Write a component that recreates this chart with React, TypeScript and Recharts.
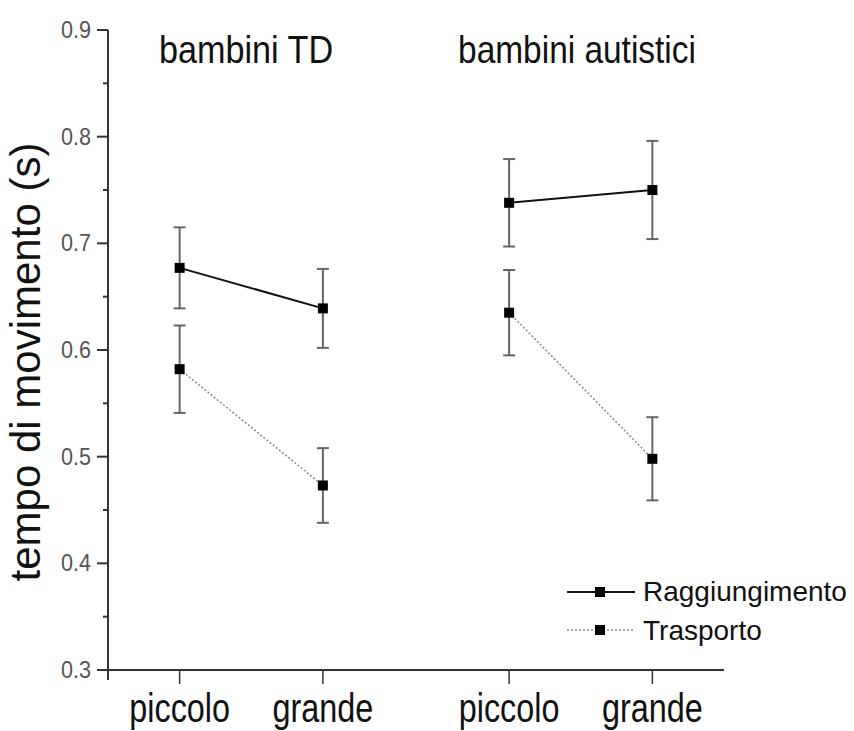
import { Customized, ErrorBar, Legend, Line, LineChart, XAxis, YAxis } from "recharts";

const FONT = "'Liberation Sans', Arial, sans-serif";

// groups and conditions
const groups = ["bambini TD", "bambini autistici"];
const sizes = ["piccolo", "grande"];
// slot of each condition along the x axis (gap between the two groups)
const xSlots = [0, 1, 2.3, 3.3];

// movement time in seconds, order: TD piccolo, TD grande, aut piccolo, aut grande
const reachMeans = [0.677, 0.639, 0.738, 0.75];
const reachErrors = [0.038, 0.037, 0.041, 0.046];
const transportMeans = [0.582, 0.473, 0.635, 0.498];
const transportErrors = [0.041, 0.035, 0.04, 0.039];

const seriesNames = ["Raggiungimento", "Trasporto"];
const yTicks = [0.3, 0.35, 0.4, 0.45, 0.5, 0.55, 0.6, 0.65, 0.7, 0.75, 0.8, 0.85, 0.9];

const rows = xSlots.map((x, i) => ({
	x,
	reach: reachMeans[i],
	reachErr: reachErrors[i],
	transport: transportMeans[i],
	transportErr: transportErrors[i],
}));
const tdRows = rows.slice(0, 2);
const autRows = rows.slice(2, 4);

const tickLabels = groups.flatMap(() => sizes);

function SquishText({ x, y, sx = 1, size, anchor = "middle", fill = "#111", children }: any) {
	return (
		<text
			transform={`translate(${x},${y}) scale(${sx},1)`}
			textAnchor={anchor}
			fontSize={size}
			fontFamily={FONT}
			fill={fill}
		>
			{children}
		</text>
	);
}

function SquareDot(props: any) {
	const { cx, cy, index } = props;
	if (cx == null || cy == null) return null;
	return <rect key={index} x={cx - 5} y={cy - 5} width={10} height={10} fill="#000" />;
}

function YTick({ x, y, payload }: any) {
	const major = Math.round(payload.value * 100) % 10 === 0;
	return (
		<g>
			<line x1={x - (major ? 11 : 5)} x2={x} y1={y} y2={y} stroke="#333" strokeWidth={2} />
			{major && (
				<SquishText x={x - 17} y={y + 8} sx={0.94} size={23} anchor="end" fill="#555">
					{payload.value.toFixed(1)}
				</SquishText>
			)}
		</g>
	);
}

function XTick({ x, y, payload, index }: any) {
	const i = xSlots.indexOf(payload.value);
	return (
		<g>
			<line x1={x} x2={x} y1={y} y2={y + 14} stroke="#333" strokeWidth={1.5} />
			<SquishText x={x} y={y + 52} sx={0.79} size={41}>
				{tickLabels[i >= 0 ? i : index]}
			</SquishText>
		</g>
	);
}

function Annotations() {
	return (
		<g>
			<line x1={108} x2={108} y1={670} y2={680} stroke="#333" strokeWidth={2} />
			<SquishText x={246} y={63} sx={0.9} size={38}>
				{groups[0]}
			</SquishText>
			<SquishText x={577} y={63} sx={0.88} size={38}>
				{groups[1]}
			</SquishText>
			<text
				transform="translate(40,362) rotate(-90)"
				textAnchor="middle"
				fontSize={42}
				fontFamily={FONT}
				fill="#111"
			>
				tempo di movimento (s)
			</text>
		</g>
	);
}

function LegendBox() {
	return (
		<svg width={294} height={80}>
			<line x1={7} x2={75} y1={20} y2={20} stroke="#111" strokeWidth={2} />
			<rect x={35} y={15} width={10} height={10} fill="#000" />
			<text x={83} y={29} fontSize={28} fontFamily={FONT} fill="#111">
				{seriesNames[0]}
			</text>
			<line x1={7} x2={75} y1={58} y2={58} stroke="#888" strokeWidth={1.5} strokeDasharray="2 2" />
			<rect x={35} y={53} width={10} height={10} fill="#000" />
			<text x={83} y={68} fontSize={28} fontFamily={FONT} fill="#111">
				{seriesNames[1]}
			</text>
		</svg>
	);
}

export default function App() {
	return (
		<div style={{ position: "absolute", left: 0, top: 0, background: "#fff" }}>
			<LineChart width={854} height={731} margin={{ top: 30, right: 130, bottom: 0, left: 0 }}>
				<XAxis
					dataKey="x"
					type="number"
					domain={[-0.5, 3.8]}
					ticks={xSlots}
					allowDataOverflow
					height={61}
					tickSize={0}
					tickMargin={0}
					tickLine={false}
					tick={<XTick />}
					stroke="#333"
					strokeWidth={2}
				/>
				<YAxis
					type="number"
					domain={[0.3, 0.9]}
					ticks={yTicks}
					width={108}
					tickSize={0}
					tickMargin={0}
					tickLine={false}
					tick={<YTick />}
					interval={0}
					stroke="#333"
					strokeWidth={2}
				/>
				<Line data={tdRows} dataKey="reach" stroke="#111" strokeWidth={2} dot={SquareDot} isAnimationActive={false}>
					<ErrorBar dataKey="reachErr" width={6} stroke="#666" strokeWidth={2} direction="y" />
				</Line>
				<Line data={autRows} dataKey="reach" stroke="#111" strokeWidth={2} dot={SquareDot} isAnimationActive={false}>
					<ErrorBar dataKey="reachErr" width={6} stroke="#666" strokeWidth={2} direction="y" />
				</Line>
				<Line
					data={tdRows}
					dataKey="transport"
					stroke="#888"
					strokeWidth={1.5}
					strokeDasharray="2 2"
					dot={SquareDot}
					isAnimationActive={false}
				>
					<ErrorBar dataKey="transportErr" width={6} stroke="#666" strokeWidth={2} direction="y" />
				</Line>
				<Line
					data={autRows}
					dataKey="transport"
					stroke="#888"
					strokeWidth={1.5}
					strokeDasharray="2 2"
					dot={SquareDot}
					isAnimationActive={false}
				>
					<ErrorBar dataKey="transportErr" width={6} stroke="#666" strokeWidth={2} direction="y" />
				</Line>
				<Customized component={<Annotations />} />
				<Legend
					layout="vertical"
					align="center"
					verticalAlign="middle"
					content={() => <LegendBox />}
					wrapperStyle={{ position: "absolute", left: 560, top: 572, width: 294, height: 80 }}
				/>
			</LineChart>
		</div>
	);
}
